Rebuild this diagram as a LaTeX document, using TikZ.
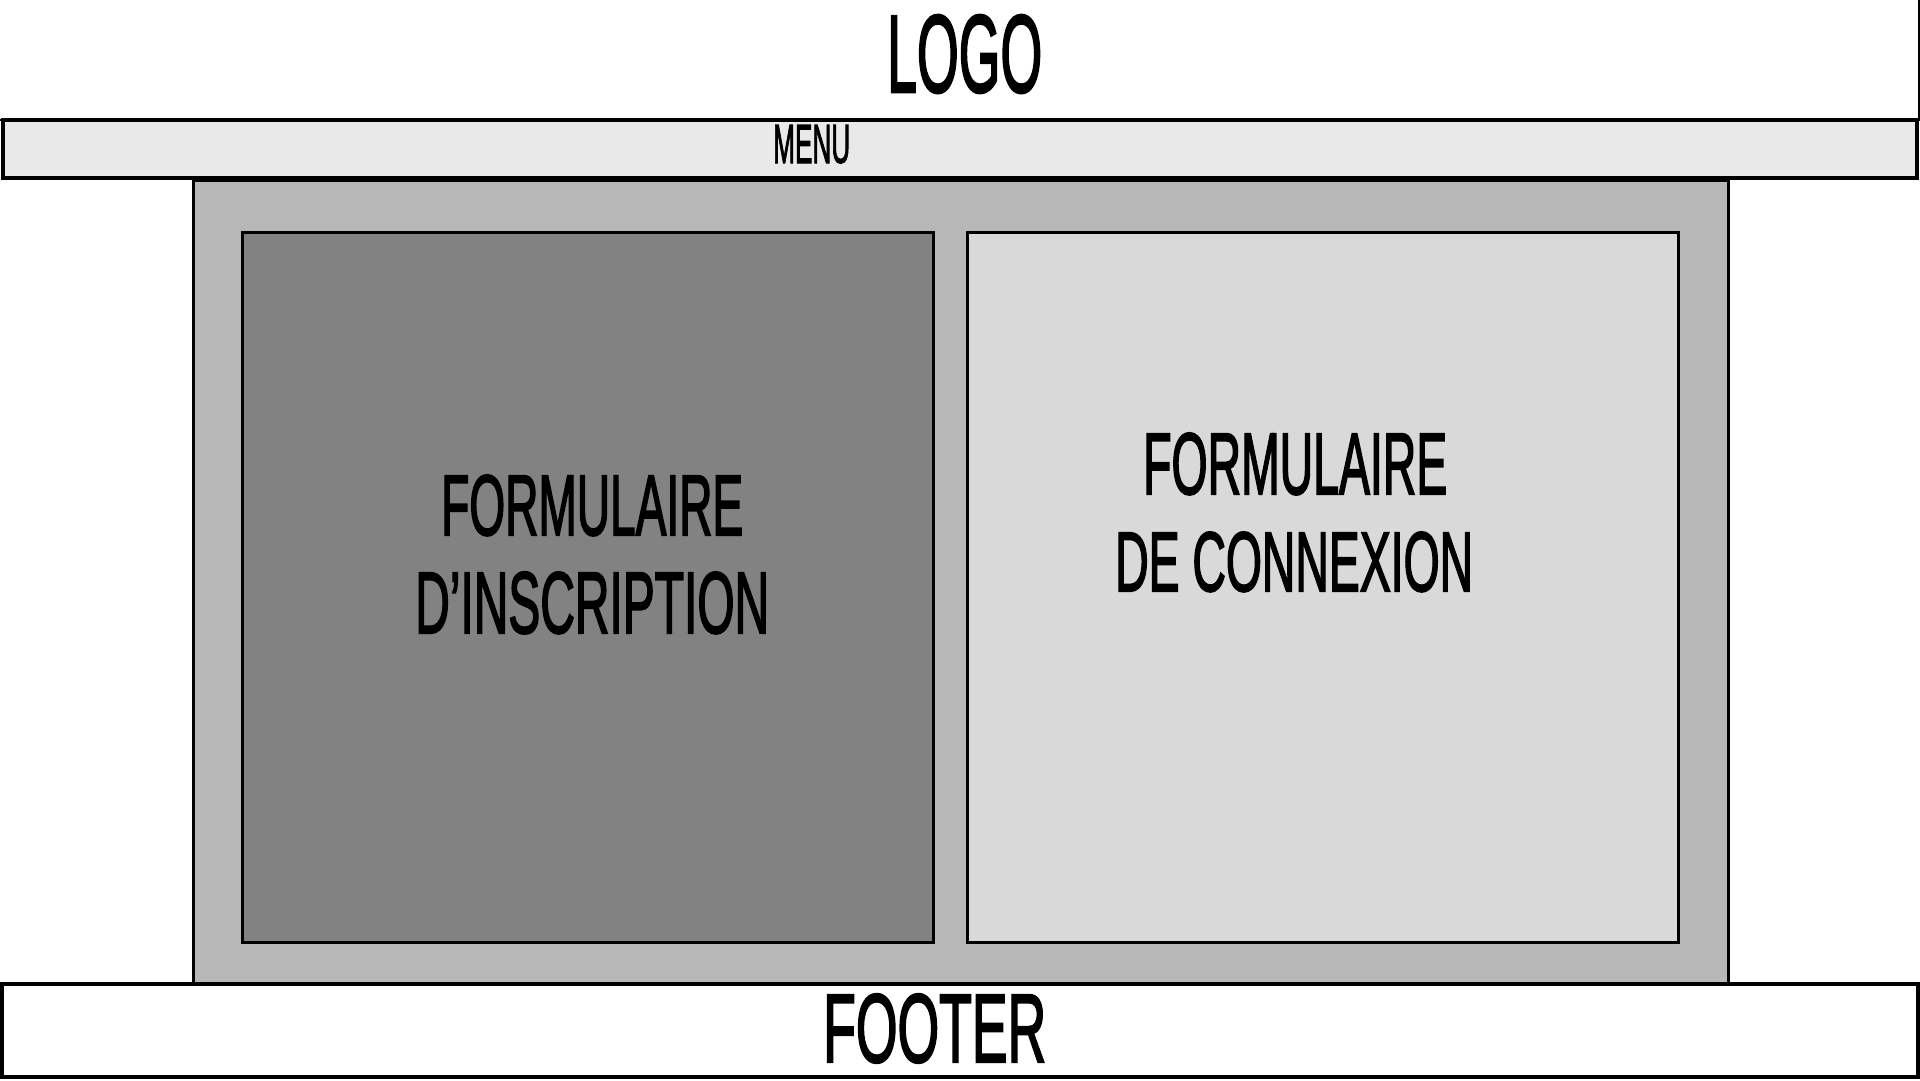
\documentclass[tikz,border=0pt]{standalone}
\usepackage{fontspec}
\usepackage{graphicx}
\newfontfamily\headfont[FakeBold=2.5]{Liberation Sans}

\definecolor{menugray}{HTML}{E9E9E9}
\definecolor{pagegray}{HTML}{B7B7B7}
\definecolor{signupgray}{HTML}{828282}
\definecolor{logingray}{HTML}{D9D9D9}

% condensed capital lettering fitted to a given width and cap height
\newcommand\capsfit[3]{\resizebox{#1pt}{#2pt}{\headfont\fontsize{80}{80}\selectfont #3}}

\begin{document}
\begin{tikzpicture}[x=1pt, y=-1pt,
  frame/.style={draw=black, line width=3.5pt},
  panel/.style={draw=black, line width=3pt},
  label/.style={inner sep=0pt, anchor=base west, text=black}
]
  % canvas
  \useasboundingbox (0,0) rectangle (1920,1080);
  \fill[white] (0,0) rectangle (1920,1080);

  % header area
  \draw[draw=black, line width=1.5pt, fill=white] (-5,-5) rectangle (1919,120);
  \node[label] (logo) at (887,92) {\capsfit{155}{77}{LOGO}};

  % navigation bar
  \draw[frame, fill=menugray] (3,120) rectangle (1917,178);
  \node[label] (menu) at (773,163) {\capsfit{77}{38}{MENU}};

  % content area
  \draw[panel, fill=pagegray] (193,180) rectangle (1728,984);

  % sign-up form
  \draw[panel, fill=signupgray] (242,232) rectangle (933,942);
  \node[label] (signupA) at (441,535) {\capsfit{302}{60}{FORMULAIRE}};
  \node[label] (signupB) at (415,633) {\capsfit{354}{61}{D’INSCRIPTION}};

  % login form
  \draw[panel, fill=logingray] (967,232) rectangle (1678,942);
  \node[label] (loginA) at (1143,494) {\capsfit{304}{61}{FORMULAIRE}};
  \node[label] (loginB) at (1115,591) {\capsfit{358}{59}{DE CONNEXION}};

  % footer
  \draw[frame, fill=white] (2,984) rectangle (1918,1077);
  \node[label] (footer) at (823,1062) {\capsfit{223}{68}{FOOTER}};
\end{tikzpicture}
\end{document}
